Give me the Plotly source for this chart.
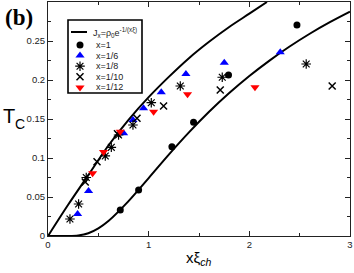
import plotly.graph_objects as go

# ---------------- data ----------------
# x = 1 (black circles)
c1_x = [0.718, 0.900, 1.231, 1.446, 1.793, 2.473]
c1_y = [0.0333, 0.0590, 0.1145, 0.1458, 0.2064, 0.2705]
# x = 1/6 (blue up-triangles)
c6_x = [0.294, 0.403, 0.751, 0.844, 0.949, 1.125, 1.370, 1.751, 2.307]
c6_y = [0.0282, 0.0577, 0.1317, 0.1487, 0.1637, 0.1842, 0.2077, 0.2222, 0.2355]
# x = 1/8 (asterisks)
c8_x = [0.218, 0.304, 0.380, 0.569, 0.629, 0.701, 0.844, 1.026, 1.314, 1.731, 2.565]
c8_y = [0.0218, 0.0410, 0.0750, 0.1026, 0.1137, 0.1295, 0.1423, 0.1709, 0.1923, 0.2035, 0.2205]
# x = 1/10 (crosses)
c10_x = [0.370, 0.487, 0.690, 0.884, 1.148, 1.711, 2.823]
c10_y = [0.0692, 0.0953, 0.1310, 0.1509, 0.1667, 0.1872, 0.1923]
# x = 1/12 (red down-triangles)
c12_x = [0.443, 0.552, 0.718, 1.049, 1.386, 2.056]
c12_y = [0.0804, 0.1077, 0.1337, 0.1594, 0.1817, 0.1906]

# theory curves J_x = rho_0 e^{-1/(x xi)}
up_x = [0.0, 0.2, 0.4, 0.6, 0.8, 1.0, 1.2, 1.4, 1.6, 1.8, 2.0, 2.175]
up_y = [0.0, 0.040, 0.078, 0.116, 0.149, 0.178, 0.204, 0.228, 0.249, 0.268, 0.285, 0.300]
lo_x = [0.0, 0.2, 0.3, 0.4, 0.5, 0.6, 0.8, 1.0, 1.2, 1.4, 1.6, 1.8, 2.0, 2.2, 2.4, 2.6, 2.8, 3.0]
lo_y = [0.0, 0.0000, 0.0007, 0.0035, 0.0098, 0.0192, 0.0448, 0.0743, 0.1043, 0.1328,
        0.1592, 0.1832, 0.2051, 0.2249, 0.2429, 0.2593, 0.2741, 0.2876]

x_ticks = [0, 1, 2, 3]
x_ticklabels = ["0", "1", "2", "3"]
y_ticks = [0, 0.05, 0.1, 0.15, 0.2, 0.25]
y_ticklabels = ["0", "0.05", "0.1", "0.15", "0.2", "0.25"]

legend_labels = ["J<sub>x</sub>=ρ<sub>0</sub>e<sup>-1/(xξ)</sup>",
                 "x=1", "x=1/6", "x=1/8", "x=1/10", "x=1/12"]

# ---------------- layout constants ----------------
W, H = 354, 273
ML, MR, MT, MB = 48, 4, 2, 37
PL, PR, PT, PB = ML, W - MR, MT, H - MB

FONT = "Liberation Sans, Arial, sans-serif"

styles = [
    dict(symbol="circle", size=7, color="black", line=dict(width=0)),
    dict(symbol="triangle-up", size=8, color="#0000ff", line=dict(width=0)),
    dict(symbol="asterisk-open", size=8, color="black", line=dict(width=1.2, color="black")),
    dict(symbol="x-thin-open", size=7, color="black", line=dict(width=1.5, color="black")),
    dict(symbol="triangle-down", size=8, color="#ff0000", line=dict(width=0)),
]

fig = go.Figure()

for xs, ys in [(up_x, up_y), (lo_x, lo_y)]:
    fig.add_trace(go.Scatter(x=xs, y=ys, mode="lines",
                             line=dict(color="black", width=2, shape="spline", smoothing=0.8),
                             showlegend=False, hoverinfo="skip"))

series = [(c1_x, c1_y), (c6_x, c6_y), (c8_x, c8_y), (c10_x, c10_y), (c12_x, c12_y)]
for (xs, ys), st, name in zip(series, styles, legend_labels[1:]):
    fig.add_trace(go.Scatter(x=xs, y=ys, mode="markers", marker=st, name=name,
                             showlegend=False, cliponaxis=False))

# ---- hand-drawn legend in pixel coordinates (overlay axes x2/y2) ----
LEG_BOX = (68, 20, 142, 93)
LEG_GLYPH_X = 80
LEG_TEXT_X = 94
LEG_ROWS = [32, 45, 55.6, 66.2, 76.8, 87.4]

for st, ry in zip(styles, LEG_ROWS[1:]):
    fig.add_trace(go.Scatter(x=[LEG_GLYPH_X], y=[ry], mode="markers", marker=st,
                             xaxis="x2", yaxis="y2", showlegend=False, hoverinfo="skip"))

shapes = [
    dict(type="rect", xref="x2", yref="y2", x0=LEG_BOX[0], y0=LEG_BOX[1],
         x1=LEG_BOX[2], y1=LEG_BOX[3], line=dict(color="black", width=1.6),
         fillcolor="white", layer="below"),
    dict(type="line", xref="x2", yref="y2", x0=71, x1=87, y0=LEG_ROWS[0], y1=LEG_ROWS[0],
         line=dict(color="black", width=2)),
]

annotations = []
for lab, ry in zip(legend_labels, LEG_ROWS):
    annotations.append(dict(xref="x2", yref="y2", x=LEG_TEXT_X - (3 if lab.startswith("J") else 0),
                            y=ry, text=lab, showarrow=False,
                            xanchor="left", yanchor="middle",
                            font=dict(family=FONT, size=9, color="#222")))

def px_x(p):
    return (p - PL) / (PR - PL)

def px_y(p):
    return (PB - p) / (PB - PT)

# panel label and axis titles
annotations += [
    dict(xref="paper", yref="paper", x=px_x(18.5), y=px_y(17), text="<b>(b)</b>",
         showarrow=False, xanchor="center", yanchor="middle",
         font=dict(family="Liberation Serif, Times New Roman, serif", size=23, color="black")),
    dict(xref="paper", yref="paper", x=px_x(9), y=px_y(115.5), text="T",
         showarrow=False, xanchor="center", yanchor="middle",
         font=dict(family=FONT, size=20, color="black")),
    dict(xref="paper", yref="paper", x=px_x(19.5), y=px_y(124), text="C",
         showarrow=False, xanchor="center", yanchor="middle",
         font=dict(family=FONT, size=14, color="black")),
    dict(xref="paper", yref="paper", x=px_x(198), y=px_y(258), text="xξ<sub><i>ch</i></sub>",
         showarrow=False, xanchor="center", yanchor="middle",
         font=dict(family=FONT, size=15, color="black")),
]

axis_common = dict(showgrid=False, zeroline=False, showline=True, linecolor="#222",
                   linewidth=1, mirror="allticks", ticks="inside", ticklen=5,
                   tickcolor="#222", tickwidth=1,
                   tickfont=dict(family=FONT, size=9.5, color="#222"))

fig.update_layout(
    width=W, height=H, autosize=False,
    margin=dict(l=ML, r=MR, t=MT, b=MB, pad=0),
    paper_bgcolor="white", plot_bgcolor="white",
    showlegend=False,
    xaxis=dict(range=[0, 3], tickmode="array", tickvals=x_ticks, ticktext=x_ticklabels,
               minor=dict(dtick=0.5, tick0=0, ticks="inside", ticklen=3, tickcolor="#222"),
               **axis_common),
    yaxis=dict(range=[0, 0.3], tickmode="array", tickvals=y_ticks, ticktext=y_ticklabels,
               minor=dict(dtick=0.025, tick0=0, ticks="inside", ticklen=3, tickcolor="#222"),
               **axis_common),
    xaxis2=dict(range=[PL, PR], overlaying="x", visible=False, fixedrange=True),
    yaxis2=dict(range=[PB, PT], overlaying="y", visible=False, fixedrange=True),
    shapes=shapes,
    annotations=annotations,
)

fig.write_html("out.html", config={"displayModeBar": False},
               post_script="document.body.style.margin='0px';")
